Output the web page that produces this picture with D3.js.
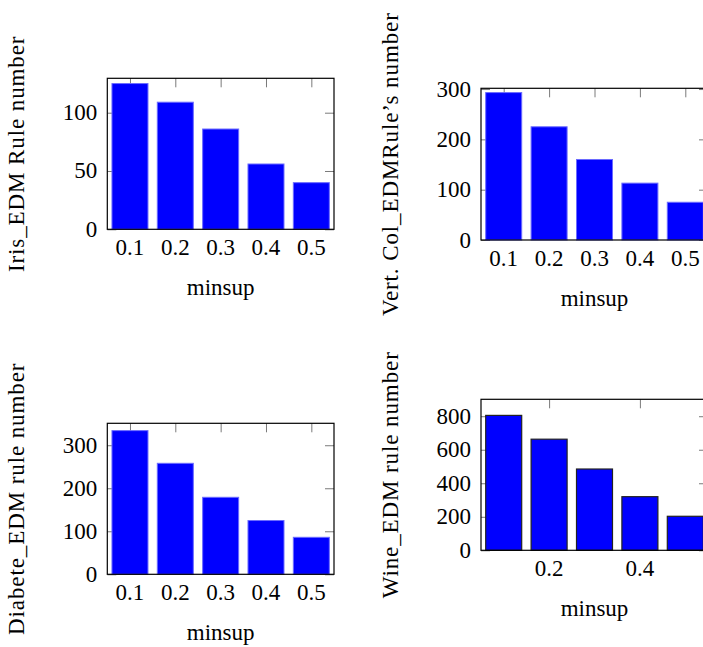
<!DOCTYPE html>
<html><head><meta charset="utf-8">
<script src="https://cdn.jsdelivr.net/npm/d3@7"></script>
<style>
html,body{margin:0;padding:0;background:#fff;}
svg text{font-family:"Liberation Serif","Times New Roman",serif;fill:#000;}
</style></head>
<body><svg id="c" width="703" height="647"></svg>
<script>
// ---- data ----
const minsup = [0.1, 0.2, 0.3, 0.4, 0.5];
const irisRules = [125, 109, 86, 56, 40];
const vertColRules = [293, 225, 160, 113, 75];
const diabeteRules = [334, 258, 179, 125, 86];
const wineRules = [805, 663, 485, 320, 203];
const xTicksFull = [0.1, 0.2, 0.3, 0.4, 0.5];
const xTicksWine = [0.2, 0.4];
const yTicksIris = [0, 50, 100];
const yTicksVert = [0, 100, 200, 300];
const yTicksDiab = [0, 100, 200, 300];
const yTicksWine = [0, 200, 400, 600, 800];
const yLabels = ["Iris_EDM Rule number", "Vert. Col_EDMRule\u2019s number", "Diabete_EDM rule number", "Wine_EDM rule number"];
const xLabel = "minsup";

// ---- layout ----
const panels = [
  {vals: irisRules, yTicks: yTicksIris, xTicks: xTicksFull, ymax: 129.5, label: yLabels[0],
   x0: 107.3, x1: 334, y0: 78.3, y1: 229.3, stroke: "#6b6bff", sw: 1},
  {vals: vertColRules, yTicks: yTicksVert, xTicks: xTicksFull, ymax: 301.5, label: yLabels[1],
   x0: 481, x1: 708, y0: 88.3, y1: 240, stroke: "#6b6bff", sw: 1},
  {vals: diabeteRules, yTicks: yTicksDiab, xTicks: xTicksFull, ymax: 351, label: yLabels[2],
   x0: 107.3, x1: 334, y0: 423.3, y1: 574.3, stroke: "#6b6bff", sw: 1},
  {vals: wineRules, yTicks: yTicksWine, xTicks: xTicksWine, ymax: 901, label: yLabels[3],
   x0: 481, x1: 708, y0: 399.3, y1: 550.3, stroke: "#222", sw: 1.2}
];
const FS = 23, tickLen = 9, barPx = 36;
const svg = d3.select("#c");

panels.forEach(p => {
  const g = svg.append("g");
  const x = d3.scaleLinear().domain([0.05, 0.55]).range([p.x0, p.x1]);
  const y = d3.scaleLinear().domain([0, p.ymax]).range([p.y1, p.y0]);
  const tk = "#7a7a7a";
  // ticks (inward, all four sides)
  const axL = d3.axisRight(y).tickValues(p.yTicks).tickSize(tickLen).tickFormat("");
  const axR = d3.axisLeft(y).tickValues(p.yTicks).tickSize(tickLen).tickFormat("");
  const axB = d3.axisTop(x).tickValues(p.xTicks).tickSize(tickLen).tickFormat("");
  const axT = d3.axisBottom(x).tickValues(p.xTicks).tickSize(tickLen).tickFormat("");
  [[axL, `translate(${p.x0},0)`], [axR, `translate(${p.x1},0)`],
   [axB, `translate(0,${p.y1})`], [axT, `translate(0,${p.y0})`]].forEach(([ax, tr]) => {
    const a = g.append("g").attr("transform", tr).call(ax);
    a.select(".domain").remove();
    a.selectAll("line").attr("stroke", tk).attr("stroke-width", 1);
  });
  // bars
  const bw = barPx;
  g.selectAll("rect.bar").data(p.vals).join("rect")
    .attr("class", "bar")
    .attr("x", (d, i) => x(minsup[i]) - bw / 2)
    .attr("width", bw)
    .attr("y", d => y(d))
    .attr("height", d => y(0) - y(d))
    .attr("fill", "#0000ff")
    .attr("stroke", p.stroke)
    .attr("stroke-width", p.sw);
  // frame
  g.append("rect").attr("x", p.x0).attr("y", p.y0)
    .attr("width", p.x1 - p.x0).attr("height", p.y1 - p.y0)
    .attr("fill", "none").attr("stroke", "#000").attr("stroke-width", 1.2);
  // y tick labels
  g.selectAll("text.yt").data(p.yTicks).join("text")
    .attr("class", "yt")
    .attr("x", p.x0 - 10).attr("y", d => y(d) + 7.5)
    .attr("text-anchor", "end").attr("font-size", FS)
    .text(d => d3.format("d")(d));
  // x tick labels
  g.selectAll("text.xt").data(p.xTicks).join("text")
    .attr("class", "xt")
    .attr("x", d => x(d)).attr("y", p.y1 + 25.5)
    .attr("text-anchor", "middle").attr("font-size", FS)
    .text(d => d3.format(".1f")(d));
  // x label
  g.append("text").attr("x", (p.x0 + p.x1) / 2).attr("y", p.y1 + 65.5)
    .attr("text-anchor", "middle").attr("font-size", FS).text(xLabel);
  // y label
  const cy = (p.y0 + p.y1) / 2, bx = p.x0 - 83;
  g.append("text").attr("transform", `translate(${bx},${cy}) rotate(-90)`)
    .attr("text-anchor", "middle").attr("font-size", FS)
    .attr("letter-spacing", 0.9)
    .text(p.label);
});
</script></body></html>
